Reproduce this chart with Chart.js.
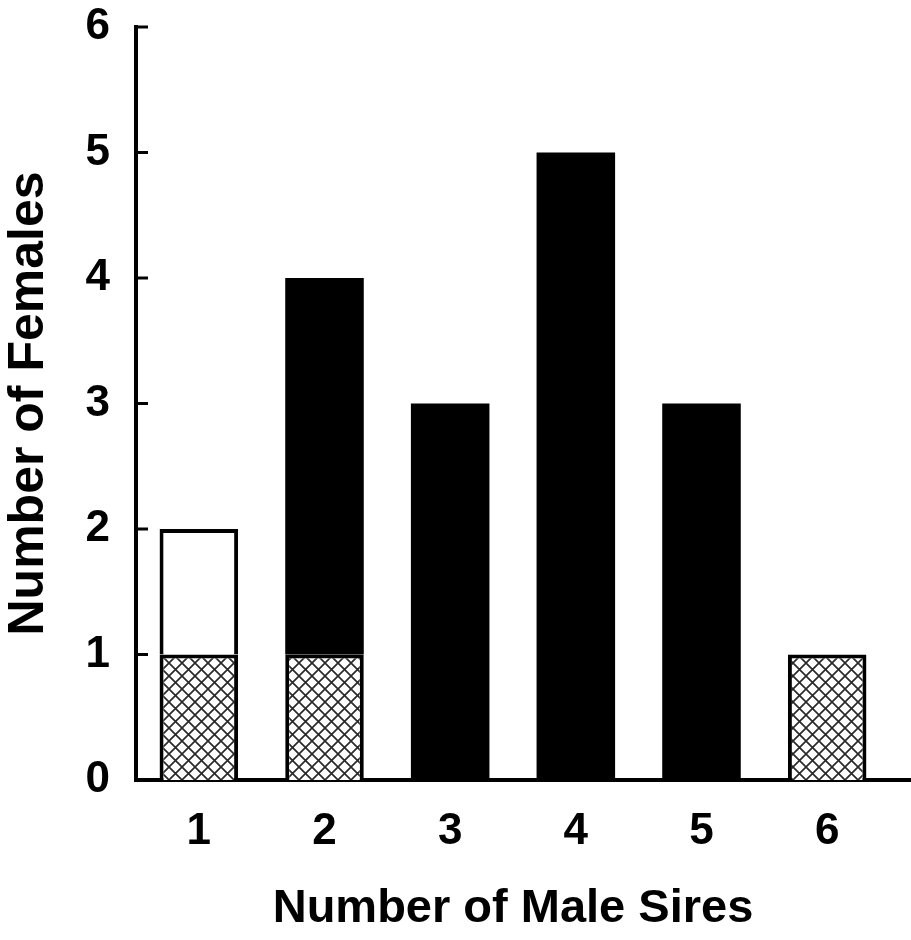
<!DOCTYPE html>
<html>
<head>
<meta charset="utf-8">
<script src="https://cdn.jsdelivr.net/npm/chart.js@4.4.0/dist/chart.umd.min.js"></script>
<style>
  html, body { margin: 0; padding: 0; background: #fff; }
  canvas { display: block; }
</style>
</head>
<body>
<canvas id="siresChart" width="911" height="940"></canvas>
<script>
// number of male sires per female
const sireCounts = ['1', '2', '3', '4', '5', '6'];
const hatchedFemales = [1, 1, 0, 0, 0, 1];
const whiteFemales = [1, 0, 0, 0, 0, 0];
const blackFemales = [0, 3, 3, 5, 3, 0];
const yTickValues = [0, 1, 2, 3, 4, 5, 6];

// crosshatch fill
const tile = document.createElement('canvas');
tile.width = 13;
tile.height = 13;
const t = tile.getContext('2d');
t.fillStyle = '#fff';
t.fillRect(0, 0, 13, 13);
t.strokeStyle = '#2a2a2a';
t.lineWidth = 1.7;
t.beginPath();
t.moveTo(0, 0); t.lineTo(13, 13);
t.moveTo(13, 0); t.lineTo(0, 13);
t.stroke();

const ctx = document.getElementById('siresChart').getContext('2d');
const hatch = ctx.createPattern(tile, 'repeat');

// inward y ticks + x axis running to the edge
const axisExtras = {
    id: 'axisExtras',
    afterDraw(chart) {
        const { ctx, chartArea, scales: { y } } = chart;
        ctx.save();
        ctx.strokeStyle = '#000';
        ctx.lineWidth = 3;
        yTickValues.forEach(v => {
            const py = y.getPixelForValue(v);
            ctx.beginPath();
            ctx.moveTo(chartArea.left, py);
            ctx.lineTo(chartArea.left + 12, py);
            ctx.stroke();
        });
        ctx.lineWidth = 4;
        ctx.beginPath();
        ctx.moveTo(chartArea.right - 2, chartArea.bottom);
        ctx.lineTo(chart.width, chartArea.bottom);
        ctx.stroke();
        ctx.restore();
    }
};

const font = 'Liberation Sans, Arial, sans-serif';

new Chart(ctx, {
    type: 'bar',
    data: {
        labels: sireCounts,
        datasets: [
            { label: 'hatched', data: hatchedFemales, backgroundColor: hatch, borderColor: '#000', borderWidth: 4 },
            { label: 'white', data: whiteFemales, backgroundColor: '#fff', borderColor: '#000', borderWidth: 4 },
            { label: 'black', data: blackFemales, backgroundColor: '#000', borderWidth: 0 }
        ]
    },
    options: {
        responsive: false,
        animation: false,
        barPercentage: 0.625,
        categoryPercentage: 1,
        layout: { padding: { top: 27, right: 21, left: 0, bottom: 0 } },
        plugins: {
            legend: { display: false },
            tooltip: { enabled: false }
        },
        scales: {
            x: {
                stacked: true,
                grid: { display: false, drawTicks: false },
                border: { display: true, color: '#000', width: 4 },
                ticks: {
                    color: '#000',
                    padding: 25,
                    font: { family: font, size: 44, weight: 'bold' }
                },
                title: {
                    display: true,
                    text: 'Number of Male Sires',
                    color: '#000',
                    padding: { top: 0, bottom: 7 },
                    font: { family: font, size: 47, weight: 'bold', lineHeight: 1 }
                },
                afterFit(scale) {
                    scale.height = 160;
                    scale.paddingLeft = 0;
                    scale.paddingRight = 0;
                }
            },
            y: {
                stacked: true,
                min: 0,
                max: 6,
                grid: { display: false, drawTicks: false },
                border: { display: true, color: '#000', width: 4 },
                ticks: {
                    stepSize: 1,
                    color: '#000',
                    padding: 26,
                    font: { family: font, size: 44, weight: 'bold' }
                },
                title: {
                    display: true,
                    text: 'Number of Females',
                    color: '#000',
                    padding: { top: 4, bottom: 0 },
                    font: { family: font, size: 50, weight: 'bold', lineHeight: 1 }
                },
                afterFit(scale) {
                    scale.width = 136;
                    scale.paddingTop = 0;
                    scale.paddingBottom = 0;
                }
            }
        }
    },
    plugins: [axisExtras]
});
</script>
</body>
</html>
